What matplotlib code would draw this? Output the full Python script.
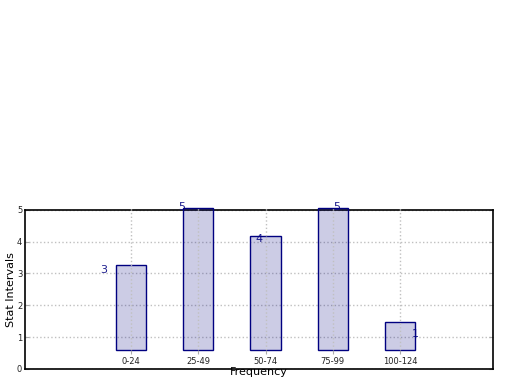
import matplotlib.pyplot as plt
import matplotlib.transforms as mtransforms
import numpy as np

# Data
intervals = ['0-24', '25-49', '50-74', '75-99', '100-124']
counts = [3, 5, 4, 5, 1]

fig = plt.figure(figsize=(5.2, 3.9), dpi=100)

# outer frame: y scale, horizontal grid
ax = fig.add_axes([0.048, 0.054, 0.9, 0.408])
ax.set_ylim(0, 5)
ax.set_xlim(0, 1)
ax.set_xticks([])
ax.set_yticks(range(6))
ax.tick_params(axis='y', labelsize=6, direction='in', length=3, color='#aaaaaa',
               right=True, labelcolor='#222222', pad=2)
ax.yaxis.grid(True, linestyle=':', color='#c0c0c0', linewidth=1)
ax.set_ylabel('Stat Intervals', fontsize=8, labelpad=0.5)
for sp in ax.spines.values():
    sp.set_linewidth(1.2)

# inner axes holding the bars
ax2 = fig.add_axes([0.048, 0.1026, 0.9, 0.364], frameon=False)
x = np.arange(len(intervals))
ax2.patch.set_visible(False)
ax2.bar(x, counts, width=0.45, color='navy', alpha=0.2)
ax2.bar(x, counts, width=0.45, fill=False, edgecolor='navy', linewidth=1.0)
ax2.set_xlim(-1.575, 5.38)
ax2.set_ylim(0, 5)
ax2.set_yticks([])
ax2.set_xticks(x)
ax2.set_xticklabels(intervals, fontsize=6)
ax2.tick_params(axis='x', length=3, color='#aaaaaa', pad=2, labelcolor='#222222')
ax2.xaxis.grid(True, linestyle=':', color='#c0c0c0', linewidth=1)
ax2.set_xlabel('Frequency', fontsize=8, labelpad=1)
for b in ax2.patches:
    b.set_clip_on(False)

# count labels: x from the bar axes, y from the outer frame
trans = mtransforms.blended_transform_factory(ax2.transData, ax.transData)
for i, c in enumerate(counts):
    ax.text(i - 0.40 + 0.155 * i, c, str(c), transform=trans, fontsize=8,
            color='#1f1f8f', ha='center', va='baseline', clip_on=False)

fig.savefig('out.png', dpi=100)
